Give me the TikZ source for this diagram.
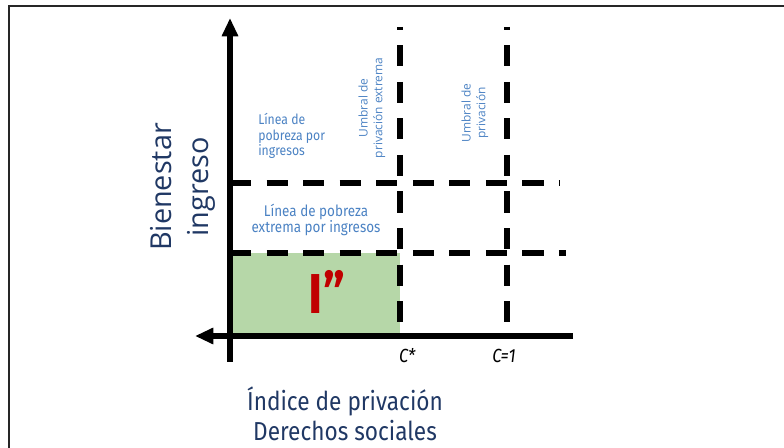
\documentclass[tikz,border=0pt]{standalone}
\usepackage{fontspec}
\setmainfont{Open Sans}
\newfontfamily\condfont[FakeStretch=0.87]{Fira Sans}
\usetikzlibrary{positioning,arrows.meta}
\definecolor{navy}{RGB}{32,56,100}
\definecolor{lblue}{RGB}{75,130,195}
\definecolor{lgreen}{RGB}{182,215,168}
\definecolor{dred}{RGB}{192,0,0}
\newcommand*{\fsz}[2]{\fontsize{#1}{#2}\selectfont}

\begin{document}
\begin{tikzpicture}[
  axis/.style={line width=3.6pt,-{Triangle[width=11pt,length=13pt]}},
  cut/.style={line width=3.6pt,dash pattern=on 15pt off 11pt},
  note/.style={text=lblue,inner sep=0pt,align=center}]
\useasboundingbox (0,0) rectangle (19.6,11.2);
% Frame is open on the right and at the bottom
\coordinate (f1) at (0.225,0);
\coordinate (f2) at (0.225,11.04);
\coordinate (f3) at (19.6,11.04);
\draw[line width=1.4pt,black!85] (f1) -- (f2) -- (f3);
% Origin and the ends of the two axes
\coordinate (o) at (5.75,2.8);
\coordinate (ytop) at (5.75,10.75);
\coordinate (ybot) at (5.75,2.15);
\coordinate (xleft) at (4.875,2.8);
\coordinate (xright) at (14.325,2.8);
% Thresholds C* and C=1 on the horizontal axis
\coordinate (cs) at (10,2.8);
\coordinate (cone) at (12.675,2.8);
\coordinate (cstop) at (10,10.525);
\coordinate (conetop) at (12.675,10.525);
% Poverty lines: upper is (p1) -- (p2), extreme is (e1) -- (e2)
\coordinate (p1) at (5.75,6.625);
\coordinate (p2) at (14,6.625);
\coordinate (e1) at (5.75,4.875);
\coordinate (e2) at (14.15,4.875);
\coordinate (ecs) at (10,4.875);
% Shade the box under both extreme thresholds
\fill[lgreen] (o) rectangle (ecs);
% Dashed thresholds
\draw[cut] (p1) -- (p2);
\draw[cut] (e1) -- (e2);
\draw[cut,dash phase=13pt] (cstop) -- (cs);
\draw[cut,dash phase=13pt] (conetop) -- (cone);
% Axes
\draw[axis] (ybot) -- (ytop);
\draw[axis] (xright) -- (xleft);
% Labels
\node[text=dred,font=\condfont\bfseries\fsz{40}{40}] (ii) at (8.175,3.9) {I”};
\node[font=\condfont\itshape\fsz{13.5}{15}] (cslab) at (10.18,2.3) {C*};
\node[font=\condfont\itshape\fsz{13.5}{15}] (conelab) at (12.6,2.3) {C=1};
\node[rotate=90,text=navy,align=center,font=\fsz{20.5}{26}] (ylab)
  at (4.575,6.525) {Bienestar\\ingreso};
\node[text=navy,align=center,font=\condfont\fsz{18.5}{21}] (xlab)
  at (8.625,0.86) {Índice de privación\\Derechos sociales};
\node[note,anchor=west,align=left,font=\condfont\fsz{10}{11}] (lp)
  at (6.45,7.8) {Línea de\\pobreza por\\ingresos};
\node[note,font=\condfont\fsz{11}{12}] (lpe)
  at (7.9,5.7) {Línea de pobreza\\extrema por ingresos};
\node[note,rotate=90,font=\fsz{8.5}{10.5}] (ue)
  at (9.3,8.5) {Umbral de\\privación extrema};
\node[note,rotate=90,font=\fsz{8.5}{10.5}] (up)
  at (11.875,8.375) {Umbral de\\privación};
\end{tikzpicture}
\end{document}
